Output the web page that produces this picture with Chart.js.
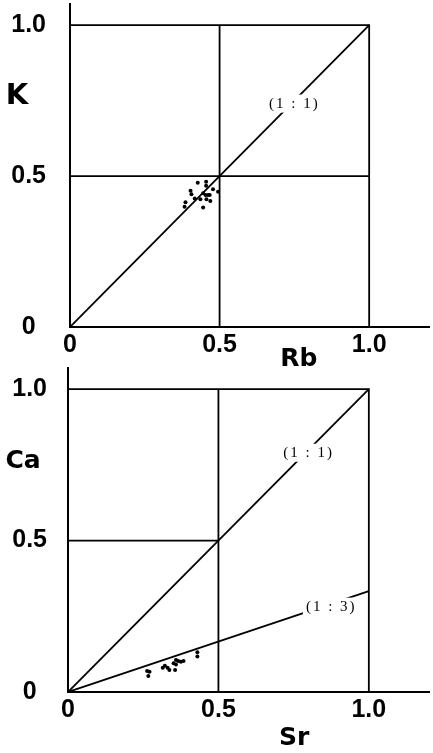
<!DOCTYPE html>
<html>
<head>
<meta charset="utf-8">
<script src="https://cdn.jsdelivr.net/npm/chart.js@4.4.1/dist/chart.umd.min.js"></script>
<style>
  body { margin: 0; background: #fff; width: 433px; height: 753px; overflow: hidden; }
  .panel { position: absolute; left: 0; width: 433px; }
  #top { top: 0; height: 380px; }
  #bottom { top: 360px; height: 393px; }
</style>
</head>
<body>
<div class="panel" id="top"><canvas id="chartTop"></canvas></div>
<div class="panel" id="bottom"><canvas id="chartBottom"></canvas></div>
<script>
// ticks shared by both panels
const tickValues = [0, 0.5, 1.0];
const tickLabels = ['0', '0.5', '1.0'];

// upper panel: Rb (x) vs K (y)
const rbValues = [0.427, 0.455, 0.455, 0.478, 0.495, 0.403, 0.406, 0.417, 0.445,
                  0.453, 0.461, 0.467, 0.436, 0.456, 0.469, 0.386, 0.383, 0.445];
const kValues  = [0.478, 0.481, 0.468, 0.456, 0.448, 0.451, 0.440, 0.426, 0.443,
                  0.437, 0.437, 0.437, 0.423, 0.423, 0.417, 0.413, 0.398, 0.396];

// lower panel: Sr (x) vs Ca (y)
const srValues = [0.263, 0.271, 0.267, 0.315, 0.322, 0.331, 0.337, 0.351, 0.359,
                  0.359, 0.366, 0.375, 0.384, 0.356, 0.430, 0.430];
const caValues = [0.069, 0.067, 0.053, 0.080, 0.087, 0.080, 0.073, 0.095, 0.106,
                  0.091, 0.102, 0.100, 0.102, 0.073, 0.131, 0.117];

// ratio lines through the origin, and where their labels sit (x value)
const topRatios = [1];
const topRatioLabels = ['(1 : 1)'];
const topLabelAt = [0.75];
const bottomRatios = [1, 1 / 3];
const bottomRatioLabels = ['(1 : 1)', '(1 : 3)'];
const bottomLabelAt = [0.80, 0.875];

// frame at 1.0 and the 0.5 cross lines
const frameX = [0, 1, 1];
const frameY = [1, 1, 0];
const topHalfX = [0, 1];
const bottomHalfX = [0, 0.5];
const halfVY = [0, 1];

const tickFont = { family: 'Liberation Sans', weight: 'bold', size: 25 };

function lineSet(xs, ys, w) {
  return {
    showLine: true,
    data: xs.map((x, i) => ({ x: x, y: ys[i] })),
    borderColor: '#000',
    borderWidth: w,
    pointRadius: 0,
    fill: false
  };
}

const ratioLabelPlugin = {
  id: 'ratioLabels',
  afterDatasetsDraw(chart, args, opts) {
    const { ctx, scales } = chart;
    ctx.save();
    ctx.font = '15px "Liberation Serif"';
    ctx.letterSpacing = '2px';
    ctx.textAlign = 'center';
    ctx.textBaseline = 'middle';
    opts.labels.forEach((txt, i) => {
      const x = scales.x.getPixelForValue(opts.at[i]);
      const y = scales.y.getPixelForValue(opts.at[i] * opts.ratios[i]) + 3;
      const w = ctx.measureText(txt).width;
      ctx.fillStyle = '#fff';
      ctx.fillRect(x - w / 2 - 3, y - 9, w + 6, 18);
      ctx.fillStyle = '#000';
      ctx.fillText(txt, x, y);
    });
    ctx.restore();
  }
};

const axisTitlePlugin = {
  id: 'axisTitles',
  afterDraw(chart, args, opts) {
    const { ctx, scales, chartArea } = chart;
    ctx.save();
    ctx.fillStyle = '#000';
    ctx.textAlign = 'center';
    ctx.textBaseline = 'middle';
    ctx.font = 'bold ' + opts.ySize + 'px "DejaVu Sans"';
    ctx.fillText(opts.yTitle, chartArea.left + opts.yDx, scales.y.getPixelForValue(opts.yAt));
    ctx.font = 'bold 25px "DejaVu Sans"';
    ctx.fillText(opts.xTitle, scales.x.getPixelForValue(opts.xAt), chartArea.bottom + opts.xDy);
    ctx.restore();
  }
};

function makeChart(id, cfg) {
  const datasets = [
    lineSet(frameX, frameY, 1.8),
    lineSet(cfg.halfX, [0.5, 0.5], 1.8),
    lineSet([0.5, 0.5], halfVY, 1.8)
  ];
  cfg.ratios.forEach(r => datasets.push(lineSet([0, 1], [0, r], 1.8)));
  datasets.push({
    data: cfg.xs.map((x, i) => ({ x: x, y: cfg.ys[i] })),
    backgroundColor: '#000',
    borderWidth: 0,
    pointRadius: 2
  });

  return new Chart(document.getElementById(id), {
    type: 'scatter',
    data: { datasets: datasets },
    plugins: [ratioLabelPlugin, axisTitlePlugin],
    options: {
      responsive: true,
      maintainAspectRatio: false,
      animation: false,
      layout: { padding: { top: cfg.padTop, left: 0, right: 0, bottom: 0 } },
      plugins: {
        legend: { display: false },
        tooltip: { enabled: false },
        ratioLabels: { labels: cfg.ratioLabels, at: cfg.labelAt, ratios: cfg.ratios },
        axisTitles: cfg.titles
      },
      scales: {
        x: {
          type: 'linear', min: 0, max: 1.2,
          grid: { display: false, drawTicks: false },
          border: { color: '#000', width: 2 },
          ticks: { font: tickFont, color: '#000', padding: 3, callback: (v, i) => tickLabels[i] },
          afterBuildTicks: s => { s.ticks = tickValues.map(v => ({ value: v })); },
          afterFit: s => { s.height = cfg.xHeight; s.paddingLeft = 0; s.paddingRight = 0; }
        },
        y: {
          type: 'linear', min: 0, max: 1.07,
          grid: { display: false, drawTicks: false },
          border: { color: '#000', width: 2 },
          ticks: { font: tickFont, color: '#000', padding: cfg.yPad, crossAlign: 'center',
                   callback: (v, i) => tickLabels[i] },
          afterBuildTicks: s => { s.ticks = tickValues.map(v => ({ value: v })); },
          afterFit: s => { s.width = cfg.yWidth; s.paddingTop = 0; s.paddingBottom = 0; }
        }
      }
    }
  });
}

makeChart('chartTop', {
  xs: rbValues, ys: kValues,
  halfX: topHalfX,
  ratios: topRatios, ratioLabels: topRatioLabels, labelAt: topLabelAt,
  padTop: 4, xHeight: 53, yWidth: 70, yPad: 24,
  titles: { xTitle: 'Rb', xAt: 0.765, xDy: 32, yTitle: 'K', ySize: 29, yAt: 0.765, yDx: -53 }
});

makeChart('chartBottom', {
  xs: srValues, ys: caValues,
  halfX: bottomHalfX,
  ratios: bottomRatios, ratioLabels: bottomRatioLabels, labelAt: bottomLabelAt,
  padTop: 8, xHeight: 61, yWidth: 68, yPad: 21,
  titles: { xTitle: 'Sr', xAt: 0.752, xDy: 46, yTitle: 'Ca', ySize: 25, yAt: 0.76, yDx: -45 }
});
</script>
</body>
</html>
